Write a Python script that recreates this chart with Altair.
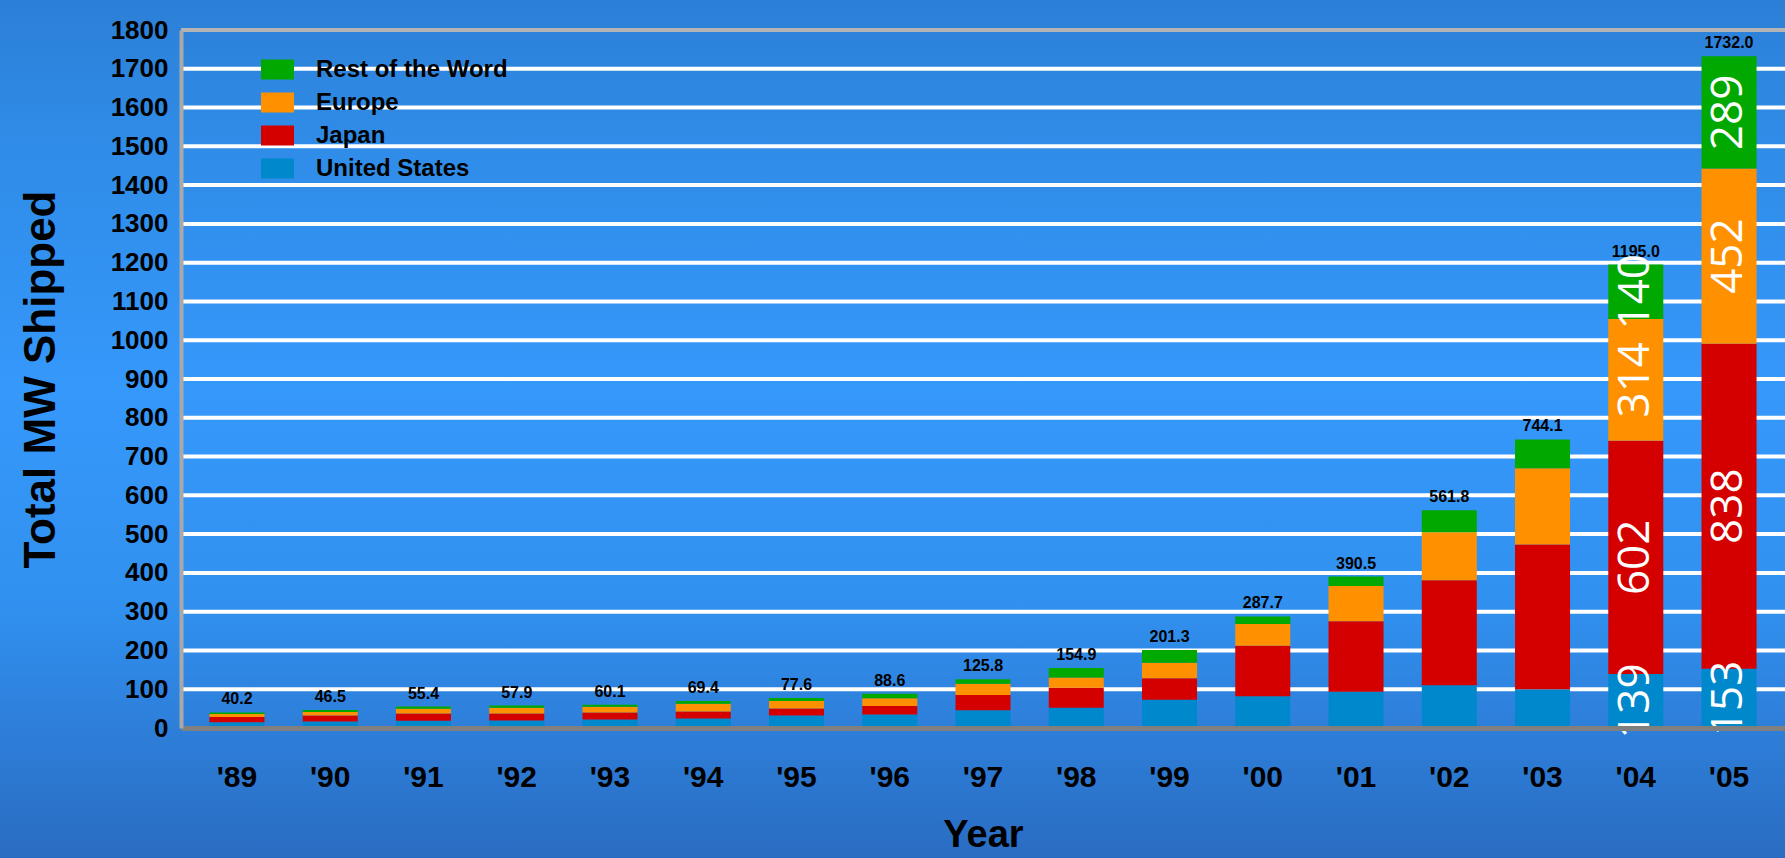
import altair as alt
import pandas as pd

# Annual photovoltaic module shipments by region (MW)
years = ["'89", "'90", "'91", "'92", "'93", "'94", "'95", "'96", "'97",
         "'98", "'99", "'00", "'01", "'02", "'03", "'04", "'05"]
united_states = [15.0, 16.5, 18.5, 19.2, 22.0, 24.5, 32.0, 35.0, 46.0,
                 52.0, 73.0, 82.0, 93.5, 110.0, 100.0, 139.0, 153.0]
japan = [13.6, 15.5, 18.6, 18.5, 18.0, 17.8, 18.4, 22.0, 39.0,
         52.0, 55.0, 130.0, 182.0, 271.0, 373.0, 602.0, 838.0]
europe = [7.2, 9.2, 12.5, 14.6, 14.5, 20.5, 19.4, 20.0, 29.0,
          26.5, 40.0, 56.0, 91.0, 124.0, 197.0, 314.0, 452.0]
rest_of_world = [4.4, 5.3, 5.8, 5.6, 5.6, 6.6, 7.8, 11.6, 11.8,
                 24.4, 33.3, 19.7, 24.0, 56.8, 74.1, 140.0, 289.0]

regions = ["Rest of the Word", "Europe", "Japan", "United States"]
region_colors = ["#00a800", "#ff9100", "#d40000", "#0088cc"]
labelled_years = ["'04", "'05"]
y_ticks = list(range(0, 1900, 100))
grid_values = list(range(100, 1800, 100))

BOLD = "Liberation Sans, Arial, sans-serif"
DIGITS = "Open Sans, Noto Sans, DejaVu Sans, sans-serif"

# long table, stacked from the bottom: US, Japan, Europe, rest of world
series = [("United States", united_states), ("Japan", japan),
          ("Europe", europe), ("Rest of the Word", rest_of_world)]
rows = []
for order, (name, vals) in enumerate(series):
    for yr, v in zip(years, vals):
        rows.append({"year": yr, "region": name, "value": v, "stack_order": order})
df = pd.DataFrame(rows)

totals = pd.DataFrame({
    "year": years,
    "total": [round(a + b + c + d, 1) for a, b, c, d in
              zip(united_states, japan, europe, rest_of_world)],
})

W, H = 1604, 698

x_scale = alt.Scale(domain=years, paddingInner=0.41, paddingOuter=0.305)
y_scale = alt.Scale(domain=[0, 1800], nice=False, zero=True)

x_axis = alt.Axis(
    title="Year", labelAngle=0, ticks=False, grid=False,
    domainColor="#7f7f7f", domainWidth=5, zindex=1,
    labelFont=BOLD, labelFontSize=30, labelFontWeight="bold", labelColor="black",
    labelPadding=34,
    titleFont=BOLD, titleFontSize=38, titleFontWeight="bold", titleColor="black",
    titlePadding=24,
)
y_axis = alt.Axis(
    title="Total MW Shipped", values=y_ticks, format="d", ticks=False, grid=False,
    domainColor="#a9a9a9", domainWidth=4, zindex=1,
    labelFont=BOLD, labelFontSize=26, labelFontWeight="bold", labelColor="black",
    labelPadding=13,
    titleFont=BOLD, titleFontSize=44, titleFontWeight="bold", titleColor="black",
    titlePadding=47,
)

# blue backdrop, darker toward the top and bottom edges
backdrop = alt.Chart(pd.DataFrame({"k": [0]})).mark_rect(
    fill=alt.LinearGradient(
        gradient="linear", x1=0, x2=0, y1=0, y2=1,
        stops=[
            alt.GradientStop(color="#2c7fd6", offset=0),
            alt.GradientStop(color="#2f8be6", offset=0.15),
            alt.GradientStop(color="#3598fb", offset=0.45),
            alt.GradientStop(color="#3191f0", offset=0.7),
            alt.GradientStop(color="#2a6cc2", offset=1),
        ],
    )
).encode(
    x=alt.value(-181), x2=alt.value(W), y=alt.value(-30), y2=alt.value(H + 130)
)

gridlines = alt.Chart(pd.DataFrame({"g": grid_values})).mark_rule(
    color="white", strokeWidth=4
).encode(y=alt.Y("g:Q", scale=y_scale, axis=y_axis))

top_border = alt.Chart(pd.DataFrame({"g": [1800]})).mark_rule(
    color="#b4b4b4", strokeWidth=4
).encode(y=alt.Y("g:Q", scale=y_scale, axis=y_axis))

bars = alt.Chart(df).mark_bar().encode(
    x=alt.X("year:N", sort=years, scale=x_scale, axis=x_axis),
    y=alt.Y("value:Q", stack="zero", scale=y_scale, axis=y_axis),
    color=alt.Color(
        "region:N",
        scale=alt.Scale(domain=regions, range=region_colors),
        legend=alt.Legend(
            orient="none", legendX=80, legendY=23, title=None, padding=0,
            symbolType="M-1,-0.6L1,-0.6L1,0.6L-1,0.6Z", symbolSize=1089,
            symbolStrokeWidth=0, symbolOpacity=1,
            labelFont=BOLD, labelFontSize=24, labelFontWeight="bold",
            labelColor="black", labelOffset=22, labelLimit=0, rowPadding=4,
        ),
    ),
    order=alt.Order("stack_order:Q", sort="ascending"),
)

total_labels = alt.Chart(totals).mark_text(
    baseline="bottom", dy=-5, font=BOLD, fontSize=16, fontWeight="bold", color="black"
).encode(
    x=alt.X("year:N", sort=years, scale=x_scale, axis=x_axis),
    y=alt.Y("total:Q", scale=y_scale, axis=y_axis),
    text=alt.Text("total:Q", format=".1f"),
)

segment_labels = alt.Chart(df).transform_filter(
    alt.FieldOneOfPredicate(field="year", oneOf=labelled_years)
).transform_stack(
    stack="value", groupby=["year"], as_=["lo", "hi"],
    sort=[alt.SortField("stack_order", order="ascending")],
).transform_calculate(
    mid="(datum.lo + datum.hi) / 2"
).mark_text(
    angle=270, align="center", baseline="middle", font=DIGITS,
    fontSize=44, color="white",
).encode(
    x=alt.X("year:N", sort=years, scale=x_scale, axis=x_axis),
    y=alt.Y("mid:Q", stack=None, scale=y_scale, axis=y_axis),
    text=alt.Text("value:Q", format=".0f"),
)

chart = alt.layer(
    backdrop, gridlines, bars, top_border, total_labels, segment_labels
).properties(
    width=W, height=H,
    autosize=alt.AutoSizeParams(type="none"),
    padding={"left": 181, "top": 30, "right": 0, "bottom": 130},
    background="#2f8ce6",
).configure_view(stroke=None)

chart.save("out.html", embed_options={"renderer": "svg", "actions": False})
